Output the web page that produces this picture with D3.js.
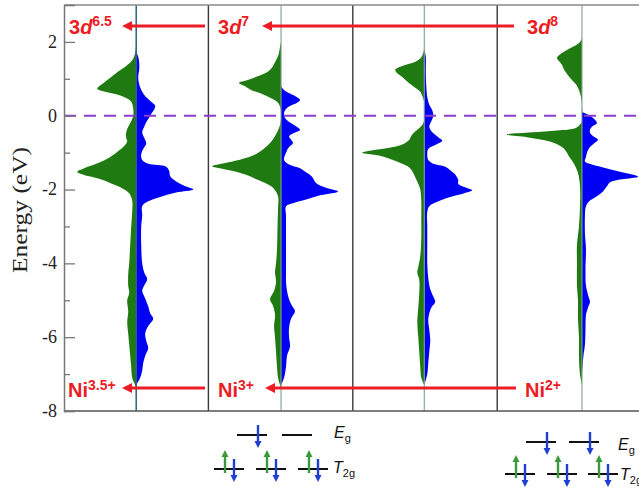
<!DOCTYPE html>
<html><head><meta charset="utf-8">
<script src="https://cdn.jsdelivr.net/npm/d3@7"></script>
<style>body{margin:0;background:#fff}svg{display:block}</style>
</head><body><svg id="c" width="639" height="488"></svg>
<script>
// ---------------- data ----------------
const energyTicks = [-8, -6, -4, -2, 0, 2];
const energyMinorTicks = [-7, -5, -3, -1, 1];
const panels = [0, 1, 2, 3];
const topLabelSup = ["6.5", "7", "8"];
const bottomLabelSup = ["3.5+", "3+", "2+"];

// DOS: [energy (eV), DOS (arb. units)], green = spin up (left), blue = spin down (right)
const dos1Up = [[2.0,0],[1.7,0.1],[1.5,0.4],[1.35,1.0],[1.2,1.8],[1.05,2.5],[0.9,3.2],[0.8,3.7],[0.73,3.9],[0.66,3.3],[0.58,2.0],[0.48,1.0],[0.38,0.5],[0.2,0.3],[0.0,0.3],[-0.15,0.5],[-0.3,0.8],[-0.45,1.0],[-0.6,1.0],[-0.7,0.9],[-0.85,1.3],[-1.0,2.0],[-1.15,2.8],[-1.3,4.0],[-1.42,5.2],[-1.52,5.9],[-1.6,5.3],[-1.7,3.8],[-1.82,2.6],[-1.95,1.5],[-2.1,0.7],[-2.3,0.4],[-2.6,0.4],[-3.0,0.5],[-3.5,0.6],[-4.0,0.7],[-4.3,0.8],[-4.6,0.8],[-4.8,0.7],[-5.0,0.9],[-5.3,0.8],[-5.6,0.9],[-5.9,0.8],[-6.2,0.7],[-6.5,0.6],[-6.8,0.5],[-7.1,0.4],[-7.3,0.1],[-7.4,0]];
const dos1Dn = [[1.75,0],[1.6,0.2],[1.45,0.3],[1.25,0.3],[1.05,0.2],[0.85,0.3],[0.65,0.6],[0.5,1.0],[0.38,1.5],[0.27,1.9],[0.17,1.8],[0.05,1.5],[-0.05,1.3],[-0.18,1.0],[-0.3,0.8],[-0.45,0.6],[-0.6,0.8],[-0.75,1.0],[-0.9,0.7],[-1.05,0.5],[-1.2,0.6],[-1.3,1.2],[-1.38,3.0],[-1.5,3.3],[-1.64,3.4],[-1.78,4.0],[-1.9,4.8],[-2.0,5.7],[-2.08,4.0],[-2.2,2.4],[-2.32,1.2],[-2.45,0.6],[-2.7,0.6],[-3.0,0.5],[-3.5,0.5],[-4.0,0.6],[-4.25,0.8],[-4.43,1.1],[-4.6,0.8],[-4.75,0.6],[-4.95,0.9],[-5.16,1.2],[-5.35,1.4],[-5.5,1.7],[-5.7,1.2],[-5.9,0.9],[-6.1,1.0],[-6.3,1.2],[-6.5,0.9],[-6.7,0.7],[-6.9,0.6],[-7.1,0.4],[-7.25,0.1],[-7.35,0]];
const dos2Up = [[2.0,0],[1.87,0.1],[1.65,0.25],[1.5,0.5],[1.35,0.8],[1.2,1.3],[1.06,2.4],[0.96,3.4],[0.89,4.2],[0.8,3.6],[0.7,3.0],[0.6,2.0],[0.5,1.2],[0.38,0.4],[0.25,0.1],[0.1,0],[-0.2,0.05],[-0.33,0.2],[-0.5,0.5],[-0.74,1.1],[-0.97,2.1],[-1.1,3.0],[-1.19,4.1],[-1.28,5.6],[-1.37,6.9],[-1.44,5.8],[-1.5,4.8],[-1.6,3.5],[-1.73,2.4],[-1.85,1.4],[-1.95,0.8],[-2.18,0.3],[-2.5,0.3],[-3.0,0.35],[-3.6,0.4],[-4.0,0.5],[-4.25,0.6],[-4.5,0.5],[-4.75,0.7],[-4.97,1.1],[-5.15,0.8],[-5.4,0.6],[-5.7,0.7],[-6.0,0.6],[-6.4,0.5],[-6.8,0.4],[-7.1,0.3],[-7.3,0.1],[-7.4,0]];
const dos2Dn = [[0.8,0],[0.7,0.3],[0.6,0.9],[0.5,1.6],[0.43,1.9],[0.35,1.6],[0.25,0.8],[0.15,0.4],[0.0,0.3],[-0.12,0.6],[-0.25,1.3],[-0.38,1.9],[-0.47,1.3],[-0.56,0.8],[-0.65,1.0],[-0.74,1.2],[-0.85,0.8],[-1.0,0.5],[-1.2,0.3],[-1.32,0.8],[-1.42,1.9],[-1.53,2.5],[-1.65,3.1],[-1.82,3.5],[-1.95,4.5],[-2.05,5.7],[-2.15,4.0],[-2.27,2.5],[-2.37,1.2],[-2.45,0.5],[-2.7,0.5],[-3.2,0.5],[-3.7,0.5],[-4.2,0.5],[-4.5,0.5],[-4.75,0.6],[-4.97,0.8],[-5.15,1.1],[-5.3,1.4],[-5.5,1.0],[-5.75,0.8],[-6.0,0.8],[-6.25,0.9],[-6.5,0.6],[-6.8,0.5],[-7.1,0.3],[-7.3,0]];
const dos3Up = [[1.9,0],[1.7,0.1],[1.55,0.4],[1.45,1.0],[1.35,2.2],[1.25,2.9],[1.15,2.7],[1.05,2.2],[0.9,1.6],[0.78,1.0],[0.65,0.4],[0.5,0.15],[0.35,0],[-0.1,0],[-0.25,0.2],[-0.33,0.5],[-0.45,1.0],[-0.55,1.3],[-0.65,1.5],[-0.78,2.2],[-0.88,3.8],[-0.95,5.5],[-1.0,6.2],[-1.08,4.5],[-1.19,3.2],[-1.3,2.2],[-1.4,1.5],[-1.55,1.1],[-1.73,0.8],[-2.0,0.4],[-2.3,0.3],[-2.8,0.3],[-3.3,0.3],[-3.8,0.4],[-4.1,0.6],[-4.25,0.7],[-4.45,0.5],[-4.8,0.5],[-5.2,0.6],[-5.6,0.7],[-6.0,0.6],[-6.4,0.5],[-6.8,0.4],[-7.1,0.3],[-7.3,0]];
const dos3Dn = [[1.8,0],[1.6,0.15],[1.2,0.15],[0.8,0.2],[0.5,0.3],[0.3,0.5],[0.15,0.8],[0.0,0.9],[-0.15,0.7],[-0.3,0.5],[-0.45,0.8],[-0.58,1.4],[-0.68,1.8],[-0.78,1.2],[-0.9,0.4],[-1.05,0.3],[-1.2,0.4],[-1.3,0.9],[-1.38,2.1],[-1.5,2.7],[-1.63,3.2],[-1.75,3.4],[-1.85,3.4],[-1.95,4.2],[-2.02,4.8],[-2.1,4.0],[-2.2,2.6],[-2.33,1.3],[-2.45,0.5],[-2.6,0.3],[-3.0,0.3],[-3.5,0.3],[-4.0,0.3],[-4.4,0.4],[-4.7,0.6],[-4.9,0.9],[-5.05,1.1],[-5.2,0.7],[-5.5,0.4],[-5.8,0.5],[-6.1,0.6],[-6.4,0.5],[-6.7,0.4],[-7.0,0.3],[-7.3,0]];
const dos4Up = [[2.1,0],[2.0,0.2],[1.88,0.8],[1.78,1.5],[1.66,2.2],[1.57,2.5],[1.48,2.3],[1.38,2.0],[1.25,1.8],[1.1,1.4],[0.97,1.0],[0.85,0.6],[0.7,0.3],[0.5,0.1],[0.3,0],[-0.15,0],[-0.24,0.2],[-0.33,0.6],[-0.4,2.5],[-0.45,5.0],[-0.51,7.5],[-0.58,5.5],[-0.7,3.2],[-0.85,2.0],[-1.0,1.5],[-1.1,1.3],[-1.3,0.8],[-1.55,0.4],[-1.9,0.2],[-2.5,0.2],[-3.0,0.3],[-3.5,0.5],[-4.0,0.5],[-4.6,0.5],[-5.0,0.4],[-5.5,0.4],[-6.0,0.3],[-6.5,0.3],[-7.0,0.2],[-7.3,0]];
const dos4Dn = [[0.1,0],[0.0,0.8],[-0.08,1.2],[-0.2,1.5],[-0.3,1.0],[-0.38,0.8],[-0.46,0.8],[-0.55,1.1],[-0.65,1.6],[-0.75,1.2],[-0.85,0.8],[-1.0,0.5],[-1.12,0.4],[-1.24,0.3],[-1.32,1.0],[-1.42,2.4],[-1.52,3.8],[-1.65,5.6],[-1.72,4.0],[-1.8,2.8],[-1.91,2.5],[-2.05,2.1],[-2.18,1.5],[-2.3,0.8],[-2.45,0.4],[-2.7,0.3],[-3.2,0.3],[-3.6,0.4],[-4.2,0.35],[-4.6,0.4],[-4.85,0.6],[-5.05,0.8],[-5.2,0.6],[-5.4,0.4],[-5.8,0.35],[-6.2,0.3],[-6.5,0.15],[-6.8,0.05],[-7.0,0]];
const dosUp = [dos1Up, dos2Up, dos3Up, dos4Up];
const dosDn = [dos1Dn, dos2Dn, dos3Dn, dos4Dn];

// orbital occupations for the schematics (d7 and d8)
const d7Eg = [["dn"], []];
const d7T2g = [["up","dn"], ["up","dn"], ["up","dn"]];
const d8Eg = [["dn"], ["dn"]];
const d8T2g = [["up","dn"], ["up","dn"], ["up","dn"]];

// ---------------- layout ----------------
const svg = d3.select("#c");
const plotTop = 5, plotBottom = 411, plotLeft = 64, plotRight = 639;
const y = d3.scaleLinear().domain([-8, 3]).range([plotBottom, plotTop]);
const xp = d3.scaleBand().domain(panels).range([plotLeft, 641.6]);
const centerFrac = [0.5, 0.503, 0.495, 0.587];
const cx = i => xp(i) + xp.bandwidth() * centerFrac[i];
const dosX = d3.scaleLinear().domain([0, 1]).range([0, 10]);
const green = "#1f7a12", blue = "#0000f5", red = "#ec1c24";

svg.append("defs").append("clipPath").attr("id", "clip")
  .append("rect").attr("x", plotLeft).attr("y", plotTop)
  .attr("width", plotRight - plotLeft).attr("height", plotBottom - plotTop);

const g = svg.append("g").attr("clip-path", "url(#clip)");

// DOS areas
panels.forEach(i => {
  const c = cx(i);
  const areaUp = d3.area().curve(d3.curveCatmullRom.alpha(0.5))
    .y(d => y(d[0])).x0(c).x1(d => c - dosX(d[1]));
  const areaDn = d3.area().curve(d3.curveCatmullRom.alpha(0.5))
    .y(d => y(d[0])).x0(c).x1(d => c + dosX(d[1]));
  g.append("path").datum(dosUp[i]).attr("d", areaUp).attr("fill", green);
  g.append("path").datum(dosDn[i]).attr("d", areaDn).attr("fill", blue);
  g.append("line").attr("x1", c).attr("x2", c).attr("y1", plotTop).attr("y2", plotBottom)
    .attr("stroke", i === 0 ? "#2f5f86" : "#7fa08a").attr("stroke-width", i === 0 ? 1.5 : 1.1);
});

// panel dividers
panels.slice(1).forEach(i => {
  svg.append("line").attr("x1", xp(i)).attr("x2", xp(i)).attr("y1", plotTop).attr("y2", plotBottom)
    .attr("stroke", "#3a3a3a").attr("stroke-width", 1.4);
});

// frame
svg.append("line").attr("x1", plotLeft).attr("x2", plotRight).attr("y1", plotTop).attr("y2", plotTop)
  .attr("stroke", "#8a8a8a").attr("stroke-width", 1.5);
svg.append("line").attr("x1", plotLeft).attr("x2", plotRight).attr("y1", plotBottom).attr("y2", plotBottom)
  .attr("stroke", "#555").attr("stroke-width", 1.5);

// Fermi level
svg.append("line").attr("x1", plotLeft).attr("x2", plotRight).attr("y1", y(0)).attr("y2", y(0))
  .attr("stroke", "#8d3cd0").attr("stroke-width", 2).attr("stroke-dasharray", "12,8");

// y axis
const yAxis = d3.axisRight(y).tickValues(energyTicks).tickSize(11).tickFormat("");
const ya = svg.append("g").attr("transform", `translate(${plotLeft},0)`).call(yAxis);
ya.select(".domain").attr("stroke", "#777").attr("stroke-width", 1.5);
ya.selectAll(".tick line").attr("stroke", "#777").attr("stroke-width", 1.3);
const yMinor = d3.axisRight(y).tickValues(energyMinorTicks).tickSize(6).tickFormat("");
const ym = svg.append("g").attr("transform", `translate(${plotLeft},0)`).call(yMinor);
ym.select(".domain").remove();
ym.selectAll(".tick line").attr("stroke", "#777").attr("stroke-width", 1.3);
svg.append("g").selectAll("text").data(energyTicks).join("text")
  .attr("x", 57).attr("y", d => y(d)).attr("dy", "0.33em")
  .attr("text-anchor", "end").attr("font-family", "Liberation Serif, Times New Roman, serif")
  .attr("font-size", 18).attr("fill", "#222").text(d => d);
svg.append("text").attr("transform", `translate(27,210) rotate(-90)`)
  .attr("text-anchor", "middle").attr("font-family", "Liberation Serif, Times New Roman, serif")
  .attr("font-size", 20).attr("fill", "#222")
  .attr("textLength", 126).attr("lengthAdjust", "spacingAndGlyphs")
  .text("Energy (eV)");

// red arrows and labels
function redArrow(x1, x2, yy) {
  svg.append("line").attr("x1", x1).attr("x2", x2 + 6).attr("y1", yy).attr("y2", yy)
    .attr("stroke", red).attr("stroke-width", 3);
  svg.append("path").attr("d", `M${x2},${yy} L${x2 + 10},${yy - 5} L${x2 + 10},${yy + 5} Z`).attr("fill", red);
}
redArrow(205, 122, 26);
redArrow(514, 262, 26);
redArrow(205, 122, 388);
redArrow(516, 265, 388);

const topLabelX = [69, 218, 527];
const botLabelX = [68, 218, 525];
const labelFont = "Liberation Sans, Arial, sans-serif";
topLabelSup.forEach((s, k) => {
  const t = svg.append("text").attr("x", topLabelX[k]).attr("y", 34)
    .attr("font-family", labelFont).attr("font-weight", "bold").attr("font-size", 20).attr("fill", red);
  t.append("tspan").text("3");
  t.append("tspan").attr("font-style", "italic").text("d");
  t.append("tspan").attr("font-size", 14).attr("dy", -8).text(s);
});
bottomLabelSup.forEach((s, k) => {
  const t = svg.append("text").attr("x", botLabelX[k]).attr("y", 397)
    .attr("font-family", labelFont).attr("font-weight", "bold").attr("font-size", 20).attr("fill", red);
  t.append("tspan").text("Ni");
  t.append("tspan").attr("font-size", 14).attr("dy", -7).text(s);
});

// orbital schematics
function spinArrow(x, level, dir) {
  const col = dir === "up" ? "#3c9a3c" : "#1f3fd0";
  if (dir === "up") {
    const tip = level - 19, bot = level + 4;
    svg.append("line").attr("x1", x).attr("x2", x).attr("y1", bot).attr("y2", tip + 5).attr("stroke", col).attr("stroke-width", 2.4);
    svg.append("path").attr("d", `M${x},${tip} L${x - 3.5},${tip + 7} L${x + 3.5},${tip + 7} Z`).attr("fill", col);
  } else {
    const tip = level + 13, top = level - 10;
    svg.append("line").attr("x1", x).attr("x2", x).attr("y1", top).attr("y2", tip - 5).attr("stroke", col).attr("stroke-width", 2.4);
    svg.append("path").attr("d", `M${x},${tip} L${x - 3.5},${tip - 7} L${x + 3.5},${tip - 7} Z`).attr("fill", col);
  }
}
function levelRow(orbs, centers, level) {
  orbs.forEach((spins, k) => {
    const c = centers[k];
    svg.append("line").attr("x1", c - 15).attr("x2", c + 15).attr("y1", level).attr("y2", level)
      .attr("stroke", "#111").attr("stroke-width", 2);
    const both = spins.length === 2;
    spins.forEach(s => {
      const off = both ? (s === "up" ? -4 : 5) : 6;
      spinArrow(c + off, level, s);
    });
  });
}
function orbLabel(x, yy, main, sub) {
  const t = svg.append("text").attr("x", x).attr("y", yy).attr("font-family", labelFont)
    .attr("font-size", 16).attr("fill", "#111");
  t.append("tspan").attr("font-style", "italic").text(main);
  t.append("tspan").attr("font-size", 11).attr("dy", 4).text(sub);
}
levelRow(d7Eg, [252, 297], 435);
levelRow(d7T2g, [229, 271, 313], 469);
orbLabel(334, 438, "E", "g");
orbLabel(333, 473, "T", "2g");
levelRow(d8Eg, [541, 584], 442);
levelRow(d8T2g, [520, 562, 603], 474);
orbLabel(618, 450, "E", "g");
orbLabel(620, 480, "T", "2g");
</script></body></html>
